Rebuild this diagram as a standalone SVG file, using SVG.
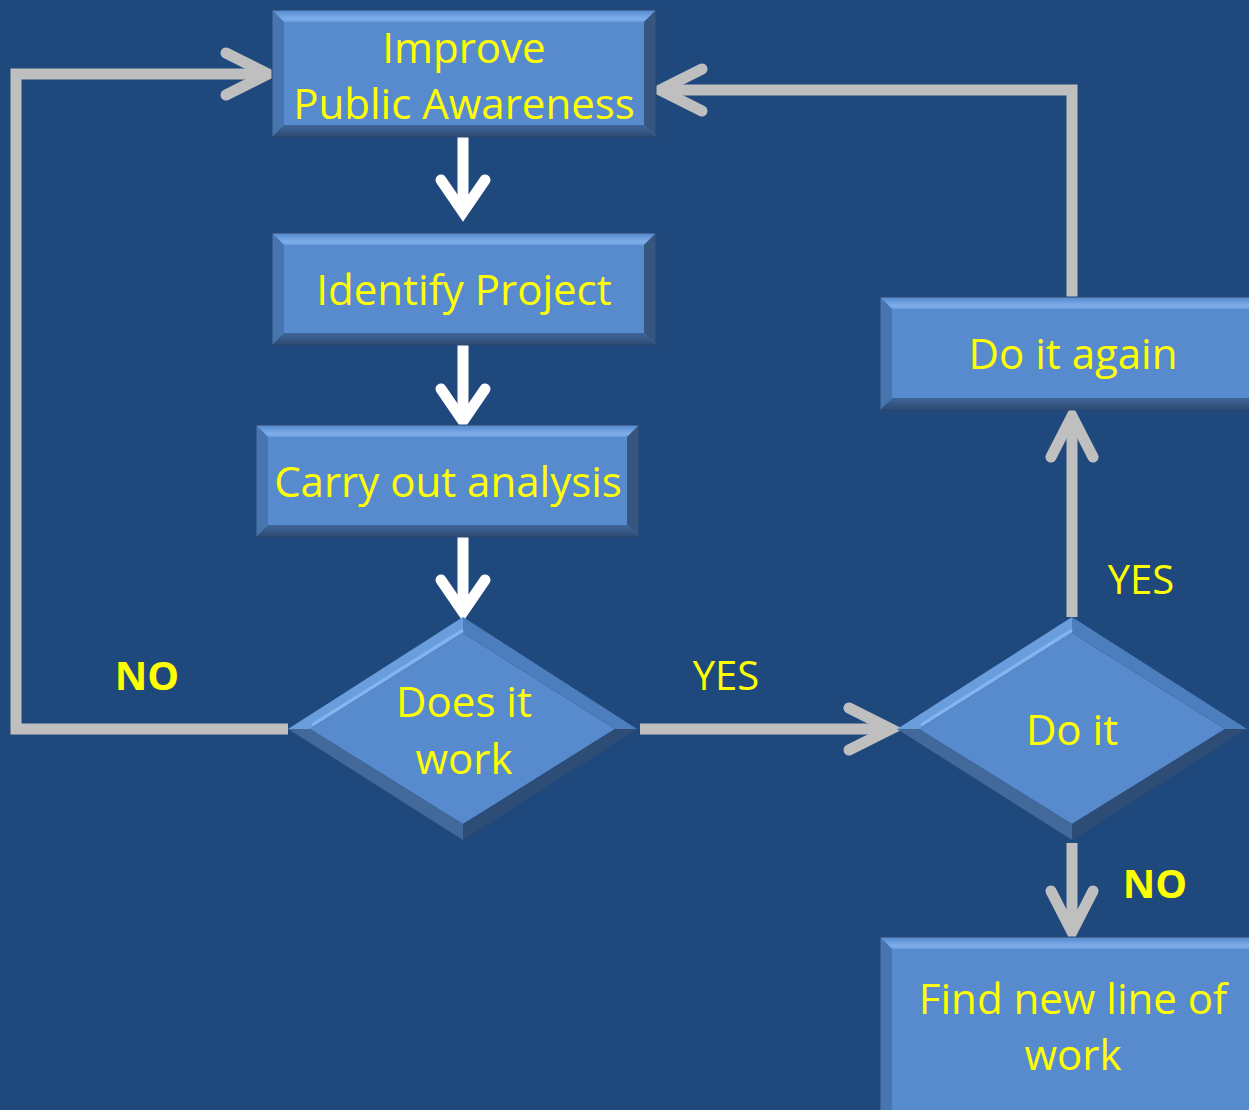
<svg xmlns="http://www.w3.org/2000/svg" width="1249" height="1110" viewBox="0 0 1249 1110">
<defs>
<linearGradient id="gTop" x1="0" y1="0" x2="0" y2="1"><stop offset="0" stop-color="#5388CC"/><stop offset="0.75" stop-color="#7FAEEB"/><stop offset="1" stop-color="#6C9BD8"/></linearGradient>
<linearGradient id="gBot" x1="0" y1="0" x2="0" y2="1"><stop offset="0" stop-color="#3F6699"/><stop offset="1" stop-color="#2C4A72"/></linearGradient>
<style>
.bg{fill:#1F497D}
.face{fill:#578BCD}
.top{fill:url(#gTop)}
.bot{fill:url(#gBot)}
.lft{fill:#4675B0}
.rgt{fill:#34567F}
.dul{fill:#6A9DDC}
.dur{fill:#4C7DBD}
.dll{fill:#42699A}
.dlr{fill:#2E4D76}
.hl{fill:none;stroke:#8CBBF5;stroke-width:3;opacity:0.8}
.edge{fill:none;stroke:#2A4670;stroke-width:1}
.t{font-family:"Open Sans","Noto Sans",sans-serif;font-size:42px;fill:#FFFF00;text-anchor:middle}
.lab{font-family:"Open Sans","Noto Sans",sans-serif;font-size:40px;fill:#FFFF00;text-anchor:middle}
.b{font-weight:bold}
.w{fill:none;stroke:#FFFFFF;stroke-width:11;stroke-linecap:butt}
.wh{fill:none;stroke:#FFFFFF;stroke-width:11;stroke-linecap:round;stroke-linejoin:miter;stroke-miterlimit:10}
.g{fill:none;stroke:#BFBFBF;stroke-width:11;stroke-linecap:butt;stroke-linejoin:miter}
.gh{fill:none;stroke:#BFBFBF;stroke-width:11;stroke-linecap:round;stroke-linejoin:miter;stroke-miterlimit:10}
</style>
</defs>
<rect class="bg" x="0" y="0" width="1249" height="1110"/>

<g id="connectors">
<path class="w" d="M463,137 V208"/>
<path class="wh" d="M441,180 L463,212 L485,180"/>
<path class="w" d="M463,345 V416"/>
<path class="wh" d="M441,389 L463,421 L485,389"/>
<path class="w" d="M463,537 V608"/>
<path class="wh" d="M441,580 L463,612 L485,580"/>
<path class="g" d="M288,729 H16 V74 H264"/>
<path class="gh" d="M226,53 L268,74 L226,95"/>
<path class="g" d="M640,729 H887"/>
<path class="gh" d="M849,708 L891,729 L849,750"/>
<path class="g" d="M1072,617 V418"/>
<path class="gh" d="M1051,457 L1072,416 L1093,457"/>
<path class="g" d="M1072,297 V90 H664"/>
<path class="gh" d="M702,69 L660,90 L702,111"/>
<path class="g" d="M1072,843 V929"/>
<path class="gh" d="M1051,891 L1072,932 L1093,891"/>
</g>

<g id="n1">
<rect class="face" x="272" y="10" width="384" height="127"/>
<polygon class="top" points="272,10 656,10 644,22 284,22"/>
<polygon class="lft" points="272,10 284,22 284,125 272,137"/>
<polygon class="rgt" points="656,10 656,137 644,125 644,22"/>
<polygon class="bot" points="272,137 656,137 644,125 284,125"/>
<rect class="edge" x="272" y="10" width="384" height="127"/>
<text class="t" x="464" y="63">Improve</text>
<text class="t" x="464" y="119">Public Awareness</text>
</g>

<g id="n2">
<rect class="face" x="272" y="233" width="384" height="112"/>
<polygon class="top" points="272,233 656,233 644,245 284,245"/>
<polygon class="lft" points="272,233 284,245 284,333 272,345"/>
<polygon class="rgt" points="656,233 656,345 644,333 644,245"/>
<polygon class="bot" points="272,345 656,345 644,333 284,333"/>
<rect class="edge" x="272" y="233" width="384" height="112"/>
<text class="t" x="464" y="305">Identify Project</text>
</g>

<g id="n3">
<rect class="face" x="256" y="425" width="383" height="112"/>
<polygon class="top" points="256,425 639,425 627,437 268,437"/>
<polygon class="lft" points="256,425 268,437 268,525 256,537"/>
<polygon class="rgt" points="639,425 639,537 627,525 627,437"/>
<polygon class="bot" points="256,537 639,537 627,525 268,525"/>
<rect class="edge" x="256" y="425" width="383" height="112"/>
<text class="t" x="448" y="497">Carry out analysis</text>
</g>

<g id="n4">
<polygon class="face" points="310,729 463,633 615,729 463,824"/>
<polygon class="dul" points="288,729 463,617 463,633 310,729"/>
<polygon class="dur" points="463,617 637,729 615,729 463,633"/>
<polygon class="dlr" points="637,729 463,840 463,824 615,729"/>
<polygon class="dll" points="463,840 288,729 310,729 463,824"/>
<path class="hl" d="M312,725 L463,630"/>
<text class="t" x="464" y="717">Does it</text>
<text class="t" x="464" y="774">work</text>
</g>

<g id="n5">
<polygon class="face" points="919,729 1072,633 1225,729 1072,824"/>
<polygon class="dul" points="897,729 1072,617 1072,633 919,729"/>
<polygon class="dur" points="1072,617 1247,729 1225,729 1072,633"/>
<polygon class="dlr" points="1247,729 1072,840 1072,824 1225,729"/>
<polygon class="dll" points="1072,840 897,729 919,729 1072,824"/>
<path class="hl" d="M921,725 L1072,630"/>
<text class="t" x="1072" y="745">Do it</text>
</g>

<g id="n6">
<rect class="face" x="880" y="297" width="382" height="113"/>
<polygon class="top" points="880,297 1262,297 1250,309 892,309"/>
<polygon class="lft" points="880,297 892,309 892,398 880,410"/>
<polygon class="bot" points="880,410 1262,410 1250,398 892,398"/>
<rect class="edge" x="880" y="297" width="382" height="113"/>
<text class="t" x="1073" y="369">Do it again</text>
</g>

<g id="n7">
<rect class="face" x="880" y="937" width="382" height="185"/>
<polygon class="top" points="880,937 1262,937 1250,949 892,949"/>
<polygon class="lft" points="880,937 892,949 892,1110 880,1122"/>
<rect class="edge" x="880" y="937" width="382" height="185"/>
<text class="t" x="1073" y="1014">Find new line of</text>
<text class="t" x="1073" y="1070">work</text>
</g>

<g id="labels">
<text class="lab b" x="147" y="690">NO</text>
<text class="lab" x="726" y="690">YES</text>
<text class="lab" x="1141" y="594">YES</text>
<text class="lab b" x="1155" y="898">NO</text>
</g>
</svg>
